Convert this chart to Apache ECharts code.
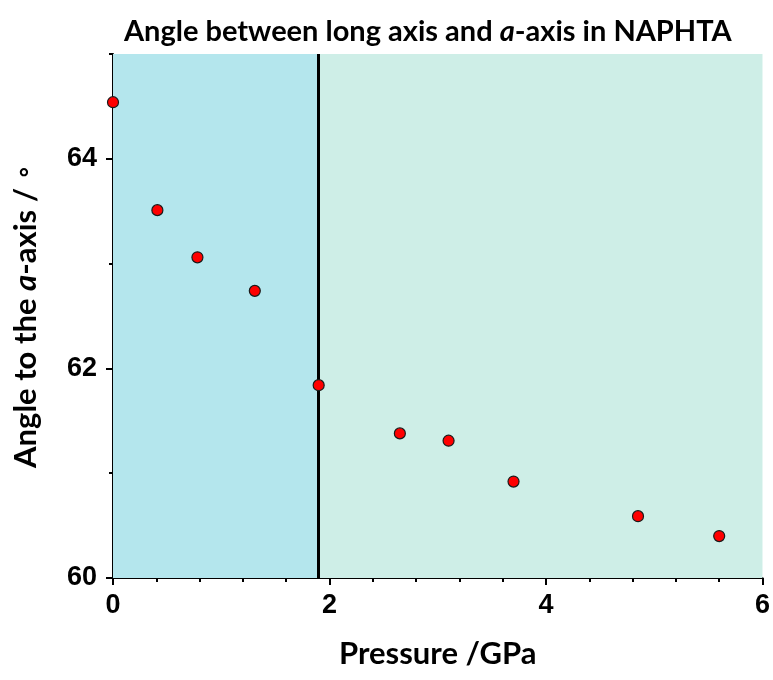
<!DOCTYPE html>
<html>
<head>
<meta charset="utf-8">
<script src="https://cdn.jsdelivr.net/npm/echarts@6/dist/echarts.min.js"></script>
<style>html,body{margin:0;padding:0;background:#fff;}#c{width:773px;height:680px;}</style>
</head>
<body>
<div id="c"></div>
<script>
// Data
const pressure = [0, 0.41, 0.78, 1.31, 1.90, 2.65, 3.10, 3.70, 4.85, 5.60];
const angle = [64.54, 63.51, 63.06, 62.74, 61.84, 61.38, 61.31, 60.92, 60.59, 60.40];
const transitionP = [1.9];
const xRange = [0, 6];
const yRange = [60, 65];
const yMajorTicks = [60, 62, 64];
const yMinorTicks = [61, 63, 65];

const nameFont = 'Lato';
const tickFont = '"Liberation Sans", Arial, sans-serif';

const chart = echarts.init(document.getElementById('c'), null, {renderer: 'canvas'});
const axisLineStyle = {color: '#000', width: 2};
const option = {
  animation: false,
  backgroundColor: '#fff',
  title: {
    text: 'Angle between long axis and {i|a}-axis in NAPHTA',
    left: 119, top: 12,
    textStyle: {
      fontFamily: nameFont, fontWeight: 'bold', fontSize: 29, color: '#000',
      rich: {i: {fontFamily: nameFont, fontWeight: 'bold', fontStyle: 'italic', fontSize: 29, color: '#000'}}
    }
  },
  grid: {left: 113, right: 10, top: 54, bottom: 102, containLabel: false},
  xAxis: {
    type: 'value', min: xRange[0], max: xRange[1], interval: 2,
    name: 'Pressure /GPa', nameLocation: 'middle', nameGap: 60,
    nameTextStyle: {fontFamily: nameFont, fontWeight: 'bold', fontSize: 31, color: '#000'},
    axisLine: {show: true, onZero: false, lineStyle: axisLineStyle},
    axisTick: {show: true, inside: false, length: 7, lineStyle: {color: '#000', width: 2}},
    minorTick: {show: true, splitNumber: 5, length: 4, lineStyle: {color: '#000', width: 2}},
    splitLine: {show: false},
    axisLabel: {fontFamily: tickFont, fontWeight: 'bold', fontSize: 27, color: '#000', margin: 14}
  },
  yAxis: [{
    type: 'value', min: yRange[0], max: yRange[1], interval: 1, position: 'left',
    name: 'Angle to the {i|a}-axis / {d|∘}', nameLocation: 'middle', nameGap: 72,
    nameTextStyle: {fontFamily: nameFont, fontWeight: 'bold', fontSize: 31, color: '#000',
      rich: {
        i: {fontFamily: nameFont, fontWeight: 'bold', fontStyle: 'italic', fontSize: 31, color: '#000'},
        d: {fontFamily: '"DejaVu Sans"', fontWeight: 'bold', fontSize: 26, color: '#000'}
      }},
    axisLine: {show: true, onZero: false, lineStyle: axisLineStyle},
    axisTick: {show: true, length: 4, customValues: yMinorTicks, lineStyle: {color: '#000', width: 2}},
    splitLine: {show: false},
    axisLabel: {customValues: yMajorTicks, fontFamily: tickFont, fontWeight: 'bold', fontSize: 27, color: '#000', margin: 16}
  }, {
    type: 'value', min: yRange[0], max: yRange[1], interval: 1, position: 'left', offset: 0,
    axisLine: {show: false},
    axisTick: {show: true, length: 7, customValues: yMajorTicks, lineStyle: {color: '#000', width: 2}},
    splitLine: {show: false},
    axisLabel: {show: false}
  }],
  series: [{
    type: 'scatter',
    xAxisIndex: 0, yAxisIndex: 0,
    data: pressure.map((p, i) => [p, angle[i]]),
    symbol: 'circle', symbolSize: 11,
    itemStyle: {color: '#ff0000', borderColor: '#1a1a1a', borderWidth: 1.2, opacity: 1},
    z: 5,
    markArea: {
      silent: true,
      data: [
        [{xAxis: xRange[0], itemStyle: {color: '#b4e6ed'}}, {xAxis: transitionP[0]}],
        [{xAxis: transitionP[0], itemStyle: {color: '#ceeee7'}}, {xAxis: xRange[1]}]
      ]
    },
    markLine: {
      silent: true, symbol: 'none', animation: false,
      label: {show: false},
      lineStyle: {color: '#000', width: 3, type: 'solid'},
      data: [{xAxis: transitionP[0]}]
    }
  }]
};
chart.setOption(option);
</script>
</body>
</html>
